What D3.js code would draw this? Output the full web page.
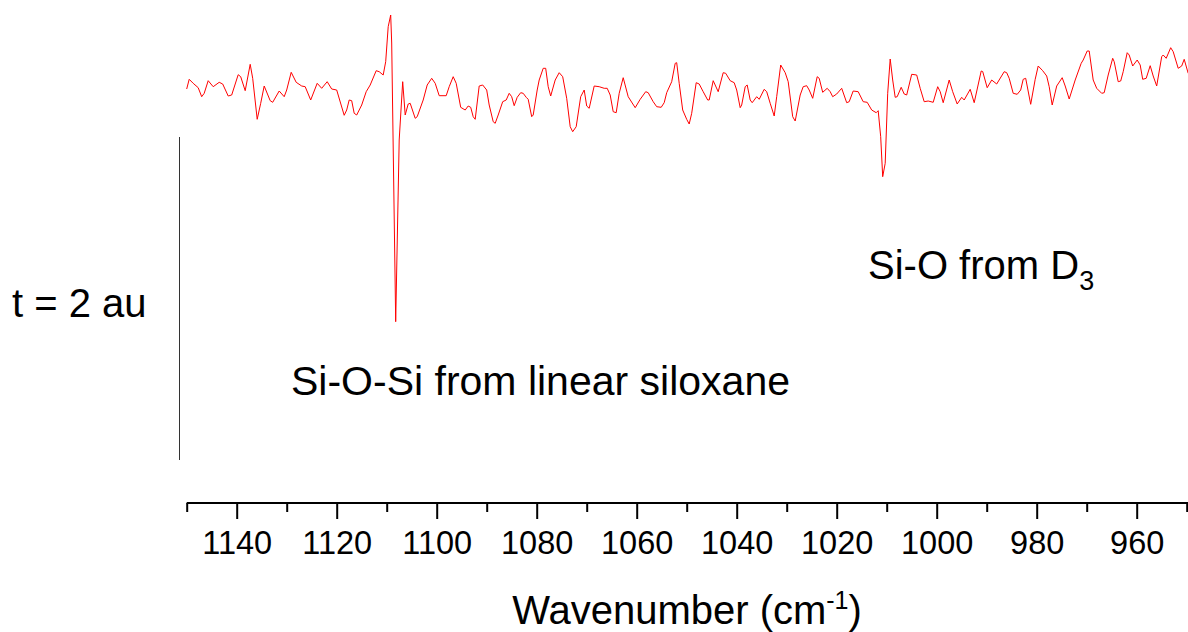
<!DOCTYPE html>
<html>
<head>
<meta charset="utf-8">
<script src="https://cdn.jsdelivr.net/npm/d3@7"></script>
<style>
    body { margin: 0; background: #fff; }
    svg { display: block; font-family: "Liberation Sans", Arial, sans-serif; }
</style>
</head>
<body>
<div id="chart"></div>
<script>
// difference spectrum (wavenumber in cm-1, signal in arbitrary units)
var wavenumber = [
    1150.0, 1149.5, 1148.7, 1147.7, 1147.0, 1146.5, 1145.7, 1144.7, 1143.5, 1142.8,
    1141.7, 1141.0, 1139.7, 1139.2, 1138.3, 1137.3, 1136.8, 1135.9, 1135.2, 1134.5,
    1133.3, 1132.8, 1131.5, 1130.5, 1130.0, 1129.1, 1128.1, 1127.0, 1126.3, 1125.2,
    1123.9, 1123.0, 1121.9, 1121.0, 1120.0, 1118.5, 1118.0, 1117.5, 1117.0, 1116.5,
    1116.0, 1115.0, 1114.1, 1113.3, 1112.1, 1111.5, 1110.7, 1110.2, 1109.7, 1109.2,
    1109.0, 1108.2, 1107.5, 1106.8, 1106.3, 1105.7, 1105.3, 1104.3, 1103.9, 1102.7,
    1101.9, 1101.0, 1100.3, 1099.5, 1098.1, 1097.5, 1096.7, 1096.1, 1095.2, 1094.3,
    1093.7, 1093.2, 1092.7, 1092.3, 1091.5, 1090.8, 1090.0, 1089.5, 1088.7, 1088.3,
    1087.7, 1086.8, 1086.1, 1085.5, 1085.0, 1084.5, 1083.9, 1083.2, 1082.7, 1082.1,
    1081.7, 1081.0, 1080.7, 1079.9, 1079.5, 1078.7, 1078.2, 1077.7, 1077.2, 1076.3,
    1075.5, 1074.8, 1074.0, 1073.3, 1072.8, 1072.1, 1071.2, 1070.5, 1070.0, 1069.5,
    1068.5, 1067.5, 1066.5, 1065.9, 1065.3, 1064.7, 1064.1, 1063.5, 1062.7, 1061.7,
    1060.3, 1059.3, 1058.2, 1057.7, 1056.7, 1056.0, 1055.1, 1054.5, 1054.0, 1053.0,
    1052.3, 1052.0, 1051.5, 1050.8, 1050.0, 1049.5, 1049.0, 1048.1, 1047.5, 1046.7,
    1045.8, 1045.5, 1044.7, 1043.7, 1042.7, 1042.2, 1041.3, 1040.5, 1040.0, 1039.3,
    1039.0, 1038.3, 1037.9, 1037.3, 1036.9, 1036.0, 1035.5, 1034.5, 1034.0, 1033.3,
    1032.5, 1032.0, 1031.2, 1030.3, 1029.7, 1028.8, 1028.3, 1027.3, 1026.7, 1026.0,
    1025.5, 1024.8, 1023.9, 1023.5, 1022.8, 1021.9, 1021.3, 1020.8, 1020.0, 1019.0,
    1018.0, 1017.5, 1016.7, 1015.7, 1014.7, 1013.9, 1013.0, 1012.1, 1011.7, 1011.2,
    1010.8, 1010.3, 1009.8, 1009.3, 1008.8, 1008.3, 1007.9, 1007.1, 1006.5, 1006.0,
    1005.0, 1004.0, 1003.3, 1002.5, 1001.7, 1000.7, 999.8, 999.3, 998.7, 997.5,
    996.8, 995.9, 995.0, 994.5, 993.3, 992.5, 991.1, 990.8, 989.9, 989.0,
    988.0, 986.5, 986.0, 985.5, 984.7, 983.9, 983.2, 982.7, 982.2, 981.2,
    980.3, 979.7, 978.8, 978.0, 977.5, 976.9, 976.0, 974.9, 974.3, 973.5,
    972.3, 971.1, 970.7, 969.9, 969.5, 968.7, 968.0, 967.0, 966.5, 965.7,
    964.8, 964.5, 963.7, 963.2, 962.7, 961.9, 961.5, 960.8, 959.9, 959.3,
    958.8, 958.1, 957.3, 956.7, 956.0, 955.0, 954.7, 954.1, 953.2, 952.7,
    951.7, 951.0, 950.5, 949.7
];

var signal = [
    0.060, 0.157, 0.117, 0.073, -0.017, 0.017, 0.143, 0.083, 0.127, 0.110,
    -0.010, 0.000, 0.203, 0.183, 0.043, 0.307, 0.167, -0.243, -0.083, 0.090,
    -0.057, -0.073, 0.040, -0.017, 0.050, 0.227, 0.127, 0.090, 0.083, -0.050,
    0.117, 0.067, 0.133, 0.060, 0.050, -0.203, -0.150, -0.050, -0.057, -0.183,
    -0.200, -0.100, 0.033, 0.100, 0.243, 0.233, 0.200, 0.333, 0.683, 0.800,
    0.520, -2.267, -0.450, 0.133, -0.200, -0.090, -0.083, -0.233, -0.217, -0.050,
    0.100, 0.167, 0.117, -0.007, -0.007, 0.083, 0.183, 0.117, -0.123, -0.150,
    -0.110, -0.123, -0.217, -0.243, 0.090, 0.100, 0.050, -0.100, -0.267, -0.283,
    -0.200, -0.067, -0.050, 0.017, -0.017, -0.107, -0.023, 0.023, 0.017, -0.023,
    -0.043, -0.217, -0.200, 0.050, 0.150, 0.267, 0.267, 0.083, -0.010, 0.150,
    0.223, 0.183, -0.033, -0.317, -0.367, -0.317, -0.017, 0.050, -0.110, -0.133,
    0.090, 0.083, 0.067, 0.067, 0.000, -0.167, -0.177, 0.017, 0.173, -0.017,
    -0.127, -0.043, 0.033, 0.023, -0.067, -0.117, -0.123, -0.077, 0.023, 0.133,
    0.317, 0.323, 0.117, -0.150, -0.243, -0.290, -0.183, 0.123, 0.110, 0.033,
    -0.050, -0.050, 0.143, 0.033, 0.223, 0.217, 0.143, 0.123, 0.050, -0.127,
    -0.100, 0.083, 0.100, -0.050, -0.077, -0.017, -0.043, 0.057, 0.033, -0.083,
    -0.210, -0.017, 0.300, 0.223, 0.133, -0.217, -0.260, 0.000, 0.083, 0.093,
    0.050, -0.033, 0.183, 0.167, 0.027, 0.067, 0.033, -0.017, 0.010, 0.067,
    -0.077, -0.067, 0.040, 0.033, -0.067, -0.073, -0.150, -0.177, -0.157, -0.417,
    -0.817, -0.683, 0.017, 0.360, 0.150, -0.023, -0.017, 0.077, 0.010, 0.000,
    0.207, 0.200, 0.067, -0.067, -0.060, -0.073, 0.083, 0.033, -0.077, 0.150,
    0.033, -0.090, -0.023, -0.050, 0.057, -0.077, 0.240, 0.235, 0.073, 0.150,
    0.110, 0.233, 0.223, 0.167, 0.017, 0.007, 0.050, 0.157, 0.167, -0.093,
    0.157, 0.290, 0.243, 0.190, 0.083, -0.100, 0.090, 0.173, 0.090, -0.040,
    0.150, 0.317, 0.350, 0.440, 0.440, 0.150, 0.067, 0.017, 0.023, 0.200,
    0.367, 0.333, 0.133, 0.140, 0.233, 0.423, 0.400, 0.290, 0.350, 0.300,
    0.157, 0.167, 0.293, 0.190, 0.090, 0.383, 0.400, 0.367, 0.473, 0.433,
    0.267, 0.290, 0.357, 0.217
];

var majorTicks = [1140, 1120, 1100, 1080, 1060, 1040, 1020, 1000, 980, 960];
var minorTicks = [1150, 1130, 1110, 1090, 1070, 1050, 1030, 1010, 990, 970, 950];

// scale bar next to the trace, in signal units
var scaleBar = [-0.42, -3.65];
var scaleBarLabel = "t = 2 au";

var width = 1188, height = 632;

var data = wavenumber.map(function (w, i) {
    return {w: w, v: signal[i]};
});

var xScale = d3.scaleLinear().domain([1150, 950]).range([186.7, 1186.7]);
var yScale = d3.scaleLinear().domain([-2.5, 0.8]).range([345, 15]);
var axisY = 503;

var svg = d3.select("#chart")
    .append("svg")
    .attr("width", width)
    .attr("height", height);

var line = d3.line()
    .x(function (d) { return xScale(d.w); })
    .y(function (d) { return yScale(d.v); });

svg.append("path")
    .datum(data)
    .attr("fill", "none")
    .attr("stroke", "#ff0000")
    .attr("stroke-width", 1)
    .attr("stroke-linejoin", "round")
    .attr("d", line);

// x axis: minor ticks first, then labelled major ticks
var minorAxis = d3.axisBottom(xScale)
    .tickValues(minorTicks)
    .tickSize(9)
    .tickFormat("");

var majorAxis = d3.axisBottom(xScale)
    .tickValues(majorTicks)
    .tickSize(16)
    .tickPadding(12)
    .tickFormat(d3.format("d"));

var gMinor = svg.append("g")
    .attr("transform", "translate(0," + axisY + ")")
    .call(minorAxis);
gMinor.select(".domain").remove();

var gMajor = svg.append("g")
    .attr("transform", "translate(0," + axisY + ")")
    .call(majorAxis);

gMajor.select(".domain")
    .attr("d", "M" + xScale(1150) + ",0H" + (width + 2))
    .attr("stroke", "#000")
    .attr("stroke-width", 2);

svg.selectAll(".tick line")
    .attr("stroke", "#000")
    .attr("stroke-width", 2);

gMajor.selectAll(".tick text")
    .attr("fill", "#000")
    .style("font-size", "32.5px")
    .style("font-family", "Liberation Sans, Arial, sans-serif");

// axis title
var title = svg.append("text")
    .attr("x", 687)
    .attr("y", 624)
    .attr("text-anchor", "middle")
    .style("font-size", "40px")
    .attr("fill", "#000");
title.append("tspan").text("Wavenumber (cm");
title.append("tspan").attr("dy", -15).style("font-size", "25px").text("-1");
title.append("tspan").attr("dy", 15).text(")");

// scale bar
svg.append("line")
    .attr("x1", 179.5).attr("x2", 179.5)
    .attr("y1", yScale(scaleBar[0]))
    .attr("y2", yScale(scaleBar[1]))
    .attr("stroke", "#333")
    .attr("stroke-width", 1);

svg.append("text")
    .attr("x", 12)
    .attr("y", 317)
    .style("font-size", "40px")
    .attr("fill", "#000")
    .text(scaleBarLabel);

// annotations
svg.append("text")
    .attr("x", 291)
    .attr("y", 395)
    .style("font-size", "41px")
    .attr("fill", "#000")
    .text("Si-O-Si from linear siloxane");

var ann = svg.append("text")
    .attr("x", 868)
    .attr("y", 279)
    .style("font-size", "40px")
    .attr("fill", "#000");
ann.append("tspan").text("Si-O from D");
ann.append("tspan").attr("dy", 11).style("font-size", "27px").text("3");
</script>
</body>
</html>
